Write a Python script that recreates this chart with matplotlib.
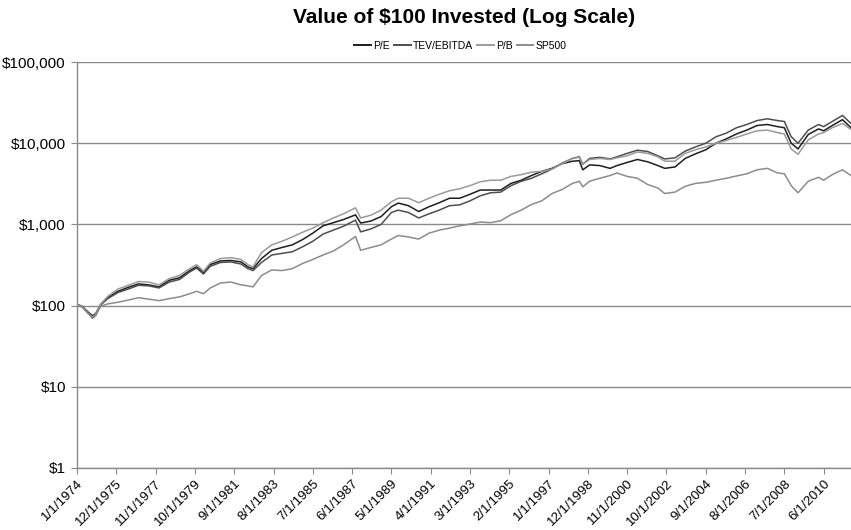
import matplotlib
matplotlib.use("Agg")
import matplotlib.pyplot as plt
from matplotlib.ticker import FixedLocator, NullLocator

plt.rcParams['font.family'] = ['Liberation Sans', 'DejaVu Sans']

# months since 1/1/1974
months = [0, 3, 6, 9, 11, 14, 18, 24, 30, 36, 42, 48, 54, 60, 66, 70, 74, 78, 84, 90,
          96, 100, 103, 108, 114, 120, 126, 132, 138, 144, 150, 156, 163, 166, 172, 178, 184, 188, 194, 200,
          206, 212, 218, 224, 230, 236, 242, 248, 254, 260, 266, 272, 278, 284, 290, 294, 296, 300, 306, 312,
          316, 322, 328, 334, 340, 344, 350, 356, 362, 368, 374, 380, 386, 392, 398, 404, 410, 414, 418, 422,
          428, 434, 437, 442, 448, 453]

pe = [104, 98, 85, 75, 80, 105, 125, 150, 168, 185, 180, 170, 205, 220, 270, 300, 255, 320, 355, 360,
      345, 300, 285, 380, 480, 520, 560, 650, 780, 960, 1050, 1150, 1310, 1040, 1100, 1250, 1650, 1830, 1700, 1440,
      1650, 1850, 2100, 2100, 2350, 2650, 2650, 2650, 3200, 3500, 4000, 4500, 4900, 5600, 6000, 6100, 4700, 5400, 5300, 4900,
      5300, 5800, 6300, 5900, 5300, 4900, 5100, 6500, 7400, 8300, 10000, 11300, 13000, 14500, 16500, 17000, 16000, 15500, 10000, 8500,
      12800, 15000, 14200, 16500, 19500, 15500]

tev_ebitda = [104, 96, 83, 70, 76, 102, 122, 145, 160, 178, 175, 165, 195, 210, 260, 290, 245, 305, 340, 345,
              325, 285, 270, 340, 420, 440, 460, 530, 620, 760, 850, 950, 1130, 810, 880, 1000, 1400, 1500, 1400, 1200,
              1350, 1500, 1700, 1740, 1950, 2250, 2450, 2500, 3000, 3400, 3700, 4200, 4800, 5700, 6500, 6800, 5500, 6500, 6700, 6400,
              6800, 7500, 8200, 7900, 7000, 6400, 6600, 8000, 9000, 10000, 12000, 13300, 15500, 17000, 19000, 20000, 19000, 18500, 12000, 10000,
              14500, 17000, 16000, 18500, 22000, 17500]

pb = [104, 97, 82, 72, 78, 105, 130, 160, 178, 198, 195, 180, 215, 235, 285, 320, 265, 335, 380, 390,
      370, 320, 300, 450, 560, 620, 700, 800, 900, 1050, 1200, 1350, 1600, 1200, 1300, 1500, 1900, 2100, 2100, 1850,
      2100, 2350, 2600, 2750, 3000, 3350, 3500, 3500, 3900, 4100, 4400, 4500, 4800, 5600, 6500, 6700, 5500, 6300, 6500, 6300,
      6600, 7000, 7800, 7500, 6800, 6000, 6000, 7500, 8300, 9000, 10000, 10800, 11800, 13000, 14200, 14500, 13500, 13000, 8500, 7300,
      11000, 13000, 13500, 15500, 17500, 14800]

sp500 = [102, 97, 82, 72, 78, 98, 105, 110, 117, 125, 120, 115, 122, 128, 140, 150, 140, 165, 190, 195,
         180, 175, 170, 235, 275, 270, 285, 330, 370, 420, 470, 560, 710, 480, 520, 560, 660, 730, 700, 660,
         780, 850, 900, 960, 1010, 1070, 1050, 1110, 1320, 1500, 1760, 1950, 2400, 2700, 3200, 3400, 2900, 3400, 3700, 4000,
         4300, 3900, 3700, 3100, 2800, 2400, 2500, 2950, 3200, 3300, 3500, 3700, 3950, 4200, 4700, 4900, 4300, 4200, 3000, 2450,
         3400, 3800, 3500, 4100, 4700, 4000]

tick_months = [0, 23, 46, 69, 92, 115, 138, 161, 184, 207, 230, 253, 276, 299, 322, 345, 368, 391, 414, 437]
tick_labels = ["1/1/1974", "12/1/1975", "11/1/1977", "10/1/1979", "9/1/1981", "8/1/1983", "7/1/1985",
               "6/1/1987", "5/1/1989", "4/1/1991", "3/1/1993", "2/1/1995", "1/1/1997", "12/1/1998",
               "11/1/2000", "10/1/2002", "9/1/2004", "8/1/2006", "7/1/2008", "6/1/2010"]
y_ticks = [1, 10, 100, 1000, 10000, 100000]
y_labels = ["$1", "$10", "$100", "$1,000", "$10,000", "$100,000"]

fig = plt.figure(figsize=(8.51, 5.30), dpi=100)
ax = fig.add_axes([0.0905, 0.117, 0.9095, 0.766])

series = [("P/E", pe, "#1e1e1e"), ("TEV/EBITDA", tev_ebitda, "#4e4e4e"),
          ("P/B", pb, "#9a9a9a"), ("SP500", sp500, "#8c8c8c")]
for name, vals, col in series:
    ax.plot(months, vals, color=col, lw=1.1, label=name)

ax.set_yscale("log")
ax.set_ylim(1, 100000)
ax.set_xlim(0, 453)
ax.yaxis.set_major_locator(FixedLocator(y_ticks))
ax.yaxis.set_minor_locator(NullLocator())
ax.set_yticklabels(y_labels)
ax.set_xticks(tick_months)
ax.set_xticklabels(tick_labels, rotation=45, ha="right", rotation_mode="anchor")
ax.grid(axis="y", color="#8a8a8a", lw=1.0)
ax.set_axisbelow(True)
for s in ["top", "right"]:
    ax.spines[s].set_visible(False)
for s in ["left", "bottom"]:
    ax.spines[s].set_color("#8a8a8a")
    ax.spines[s].set_linewidth(1.0)
ax.tick_params(axis="x", colors="#8a8a8a", labelcolor="black", labelsize=9.6, length=4, pad=3)
ax.tick_params(axis="y", colors="#8a8a8a", labelcolor="black", labelsize=11, length=4, pad=4)

fig.suptitle("Value of $100 Invested (Log Scale)", x=0.545, y=0.985, fontsize=15, fontweight="bold")
leg = fig.legend(loc="center", bbox_to_anchor=(0.541, 0.913), ncol=4, frameon=False,
                 handlelength=1.6, handletextpad=0.2, columnspacing=0.4,
                 prop={"family": ["Liberation Sans Narrow", "Liberation Sans"], "size": 7.5})
for l in leg.get_lines():
    l.set_linewidth(1.4)

fig.savefig("out.png", dpi=100)
